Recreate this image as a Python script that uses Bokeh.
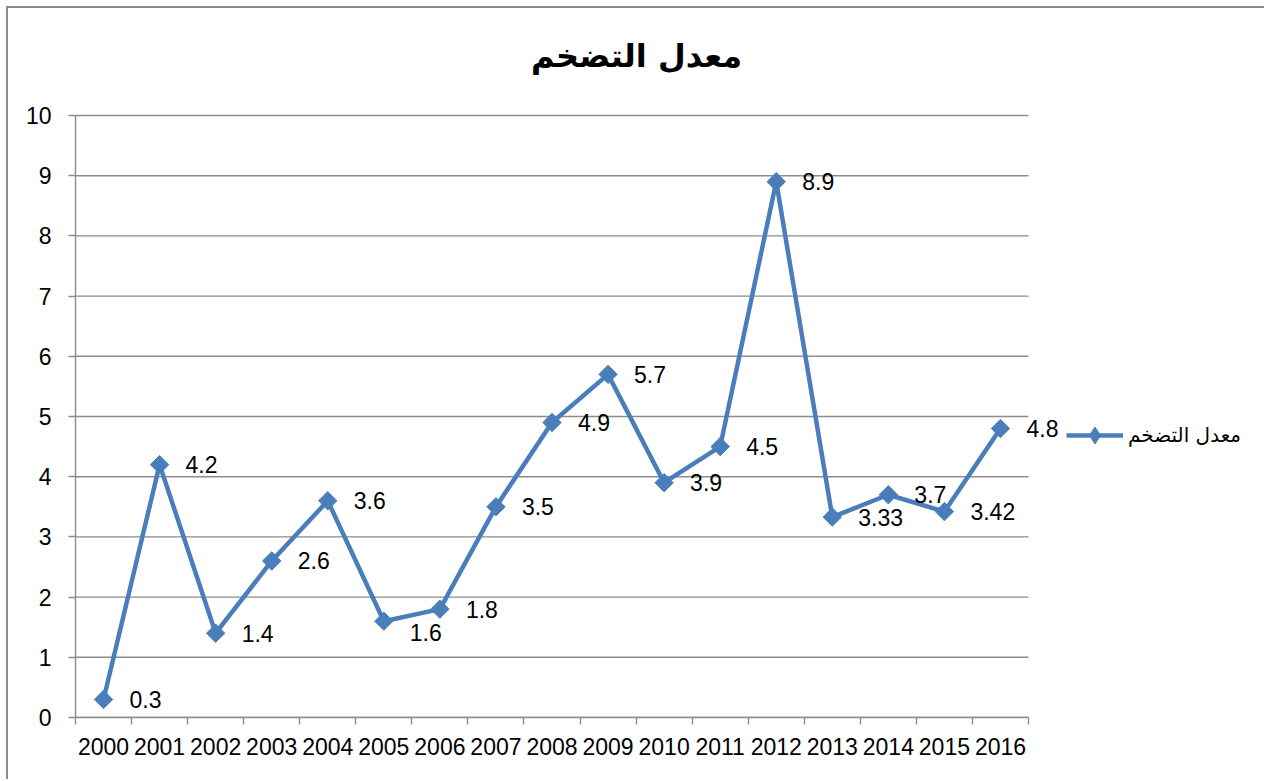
import math
from bokeh.plotting import figure
from bokeh.models import (ColumnDataSource, FixedTicker, LabelSet, Label, Legend,
                          LegendItem, Range1d)
from bokeh.core.properties import value
from bokeh.embed import file_html
from bokeh.resources import INLINE

# ---- data ----
years = [2000, 2001, 2002, 2003, 2004, 2005, 2006, 2007, 2008,
         2009, 2010, 2011, 2012, 2013, 2014, 2015, 2016]
inflation = [0.3, 4.2, 1.4, 2.6, 3.6, 1.6, 1.8, 3.5, 4.9,
             5.7, 3.9, 4.5, 8.9, 3.33, 3.7, 3.42, 4.8]
value_labels = ["0.3", "4.2", "1.4", "2.6", "3.6", "1.6", "1.8", "3.5", "4.9",
                "5.7", "3.9", "4.5", "8.9", "3.33", "3.7", "3.42", "4.8"]
y_ticks = [0, 1, 2, 3, 4, 5, 6, 7, 8, 9, 10]
series_name = "معدل التضخم"
chart_title = "معدل التضخم"

# label placement tweaks (pixels; style only)
label_dy = [0, 0, 0, 0, 0, -11, 0, 0, 0, 0, 0, 0, 0, 0, 0, 0, 0]

BLUE = "#4A7EBB"
GRAY = "#8c8c8c"
NUM_FONT = "Liberation Sans"
AR_FONT = "DejaVu Sans"

# canvas geometry (canvas starts 8px into the page, after a 2px border)
W, H = 1258, 773
FL, FT, FR, FB = 67, 107, 1020, 709      # where the category/value extent sits

X0, X1 = years[0] - 0.5, years[-1] + 0.5
Y0, Y1 = y_ticks[0], y_ticks[-1]
PPX = (FR - FL) / (X1 - X0)
PPY = (FB - FT) / (Y1 - Y0)


def dx(px):
    return X0 + (px - FL) / PPX


def dy(py):
    return Y1 - (py - FT) / PPY


src = ColumnDataSource(dict(year=years, val=inflation, label=value_labels,
                            dy=label_dy))

# frame spans from the y-axis to the right edge and from the top edge to the x-axis
p = figure(width=W, height=H, output_backend="svg", toolbar_location=None,
           x_range=Range1d(X0, dx(W)), y_range=Range1d(Y0, dy(0)),
           min_border_left=FL, min_border_right=0,
           min_border_top=0, min_border_bottom=H - FB)
p.outline_line_color = None
p.background_fill_color = "white"
p.border_fill_color = "white"
p.margin = (6, 0, 0, 6)
p.styles = {"border-left": "2px solid #8c8c8c", "border-top": "2px solid #8c8c8c"}

# grid (only across the category extent)
p.xgrid.grid_line_color = None
p.ygrid.grid_line_color = None
p.segment(x0=[X0] * len(y_ticks), x1=[X1] * len(y_ticks), y0=y_ticks, y1=y_ticks,
          line_color=GRAY, line_width=1.4)

# x axis: labels centred on categories, tick marks at boundaries
xa = p.xaxis[0]
xa.bounds = (X0, X1)
xa.ticker = FixedTicker(ticks=years,
                        minor_ticks=[y - 0.5 for y in years] + [years[-1] + 0.5])
xa.major_tick_line_color = None
xa.minor_tick_line_color = GRAY
xa.minor_tick_line_width = 1.4
xa.minor_tick_out = 7
xa.minor_tick_in = 0
xa.axis_line_color = GRAY
xa.axis_line_width = 1.4
xa.major_label_text_font = NUM_FONT
xa.major_label_text_font_size = "23px"
xa.major_label_text_color = "black"
xa.major_label_standoff = 13

ya = p.yaxis[0]
ya.bounds = (Y0, Y1)
ya.ticker = FixedTicker(ticks=y_ticks)
ya.minor_tick_line_color = None
ya.major_tick_line_color = GRAY
ya.major_tick_line_width = 1.4
ya.major_tick_out = 7
ya.major_tick_in = 0
ya.axis_line_color = GRAY
ya.axis_line_width = 1.4
ya.major_label_text_font = NUM_FONT
ya.major_label_text_font_size = "23px"
ya.major_label_text_color = "black"
ya.major_label_standoff = 17

# series
ln = p.line(x="year", y="val", source=src, line_color=BLUE, line_width=4.5,
            line_join="round")
mk = p.scatter(x="year", y="val", source=src, marker="square", size=13,
               angle=math.pi / 4, fill_color=BLUE, line_color=BLUE)
# legend key marker (diamond, same colour); holds only a non-drawable NaN point
key = p.scatter(x=[float("nan")], y=[float("nan")], marker="diamond",
                fill_color=BLUE, line_color=BLUE)

labels = LabelSet(x="year", y="val", text="label", source=src, x_offset=26,
                  y_offset="dy", text_baseline="middle", text_align="left",
                  text_font=value(NUM_FONT), text_font_size="23px",
                  text_color="black")
p.add_layout(labels)

# title
p.add_layout(Label(x=dx(628), y=dy(47), text=chart_title, text_align="center",
                   text_baseline="middle", text_font=AR_FONT,
                   text_font_size="32px", text_font_style="bold",
                   text_color="black"))

# legend to the right of the categories
legend = Legend(items=[LegendItem(label=series_name, renderers=[ln, key])],
                location=(1058 - FL, FB - 458 + 10), glyph_width=57,
                glyph_height=42,
                label_text_font=AR_FONT, label_text_font_size="20px",
                label_text_color="black", label_standoff=5,
                margin=0, padding=10, border_line_color=None,
                background_fill_alpha=0)
p.add_layout(legend)

open("out.html", "w").write(file_html(p, INLINE))
